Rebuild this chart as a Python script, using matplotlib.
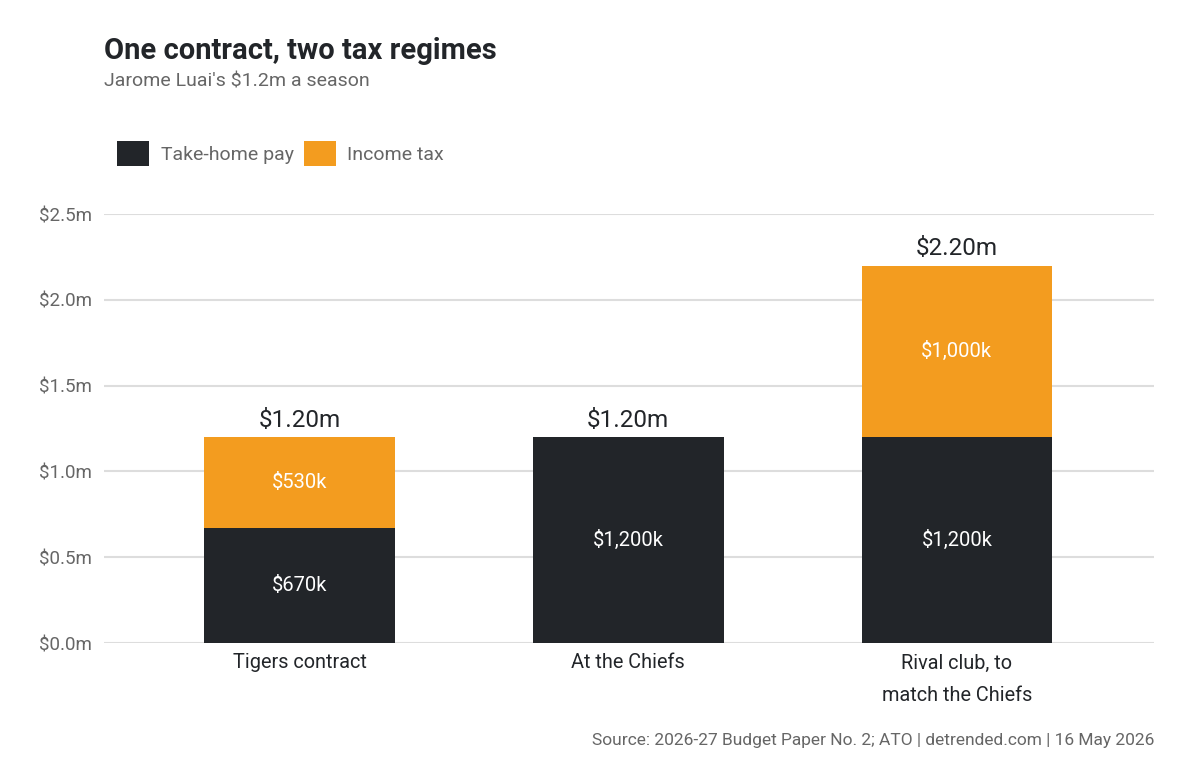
import numpy as np
import matplotlib
matplotlib.use('Agg')
import matplotlib.pyplot as plt
from matplotlib.patches import Patch

plt.rcParams['font.family'] = ['Roboto', 'DejaVu Sans']

categories = ['Tigers contract', 'At the Chiefs', 'Rival club, to\nmatch the Chiefs']
take_home = [0.67, 1.20, 1.20]     # $m
income_tax = [0.53, 0.00, 1.00]    # $m
take_home_labels = ['$670k', '$1,200k', '$1,200k']
tax_labels = ['$530k', '', '$1,000k']
total_labels = ['$1.20m', '$1.20m', '$2.20m']
yticks = [0.0, 0.5, 1.0, 1.5, 2.0, 2.5]
ytick_labels = ['$0.0m', '$0.5m', '$1.0m', '$1.5m', '$2.0m', '$2.5m']

DARK = '#222529'
ORANGE = '#F39C1F'
GREY = '#666666'
GRID = '#dddddd'

fig = plt.figure(figsize=(12, 7.8), dpi=100)
ax = fig.add_axes([0.0867, 0.1756, 0.875, 0.55])

x = np.arange(len(categories))
w = 0.58
ax.bar(x, take_home, width=w, color=DARK, zorder=3)
ax.bar(x, income_tax, width=w, bottom=take_home, color=ORANGE, zorder=3)

for i in range(len(categories)):
    ax.text(x[i], take_home[i] / 2, take_home_labels[i], ha='center', va='center',
            color='white', fontsize=14.5, zorder=4)
    if income_tax[i] > 0:
        ax.text(x[i], take_home[i] + income_tax[i] / 2, tax_labels[i], ha='center',
                va='center', color='white', fontsize=14.5, zorder=4)
    ax.annotate(total_labels[i], (x[i], take_home[i] + income_tax[i]),
                xytext=(0, 4), textcoords='offset points', ha='center', va='bottom',
                color=DARK, fontsize=17.5)

ax.set_xlim(-0.595, 2.6)
ax.set_ylim(0, 2.5)
ax.set_yticks(yticks)
ax.set_yticklabels(ytick_labels)
ax.set_xticks(x)
ax.set_xticklabels(categories, linespacing=1.9)
ax.tick_params(axis='y', length=0, pad=8.5, labelsize=13.5, labelcolor=GREY)
ax.tick_params(axis='x', length=0, pad=7.5, labelsize=14.3, labelcolor=DARK)
ax.grid(axis='y', color=GRID, linewidth=1.5, zorder=0)
ax.set_axisbelow(True)
for s in ax.spines.values():
    s.set_visible(False)

fig.text(0.0867, 0.935, 'One contract, two tax regimes', fontsize=21, fontweight='bold',
         color=DARK, va='center', ha='left')
fig.text(0.0867, 0.895, "Jarome Luai's $1.2m a season", fontsize=14, color=GREY,
         va='center', ha='left')

handles = [Patch(facecolor=DARK, label='Take-home pay'),
           Patch(facecolor=ORANGE, label='Income tax')]
leg = fig.legend(handles=handles, loc='center left', bbox_to_anchor=(0.083, 0.803),
                 ncol=2, frameon=False, fontsize=14, handlelength=1.65, handleheight=1.65,
                 handletextpad=0.6, columnspacing=0.5)
for t in leg.get_texts():
    t.set_color(GREY)

fig.text(0.9617, 0.05, 'Source: 2026-27 Budget Paper No. 2; ATO | detrended.com | 16 May 2026',
         fontsize=12.5, color=GREY, ha='right', va='center')

fig.savefig('out.png', dpi=100, facecolor='white')
